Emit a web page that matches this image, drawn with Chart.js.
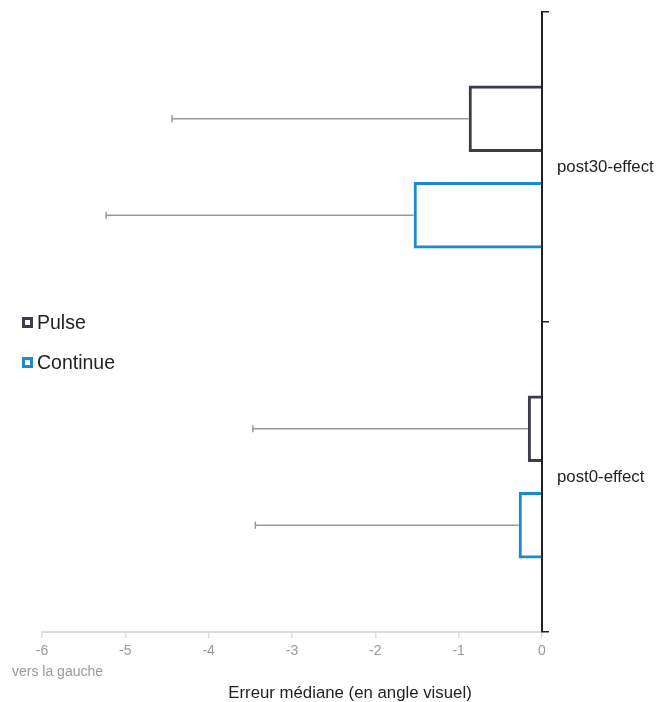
<!DOCTYPE html>
<html>
<head>
<meta charset="utf-8">
<script src="https://cdn.jsdelivr.net/npm/chart.js@4.4.0/dist/chart.umd.min.js"></script>
<style>
  body { margin: 0; background: #fff; font-family: "Liberation Sans", Arial, sans-serif; }
  #wrap { position: relative; width: 656px; height: 702px; }
  .legend-item { position: absolute; left: 22px; display: flex; align-items: center; height: 24px; font-size: 19.5px; color: #222; }
  .legend-item span.box { width: 11px; height: 11px; box-sizing: border-box; border: 3px solid; margin-right: 4px; }
  #side-note { position: absolute; left: 12px; top: 663px; font-size: 14px; color: #999; }
  #x-title { position: absolute; left: 0; width: 700px; top: 683px; text-align: center; font-size: 16.8px; color: #222; }
</style>
</head>
<body>
<div id="wrap">
  <canvas id="chart" width="656" height="702"></canvas>
  <div class="legend-item" style="top:310px"><span class="box" style="border-color:#3d3b4c"></span>Pulse</div>
  <div class="legend-item" style="top:350px"><span class="box" style="border-color:#1b8ad3"></span>Continue</div>
  <div id="side-note">vers la gauche</div>
  <div id="x-title">Erreur médiane (en angle visuel)</div>
</div>
<script>
const categories = ["post30-effect", "post0-effect"];
const pulseValues = [-0.88, -0.17];
const continueValues = [-1.54, -0.28];
// left end of each error bar
const pulseErrLow = [-4.44, -3.47];
const continueErrLow = [-5.23, -3.44];
const xMin = -6, xMax = 0;

// draws one-sided error bars from the bar end to the low value
const errorBars = {
  id: "errorBars",
  afterDatasetsDraw(chart) {
    const ctx = chart.ctx;
    const xs = chart.scales.x;
    chart.data.datasets.forEach((ds, i) => {
      chart.getDatasetMeta(i).data.forEach((bar, j) => {
        const xEnd = xs.getPixelForValue(ds.errLow[j]);
        ctx.save();
        ctx.strokeStyle = "#999";
        ctx.lineWidth = 1.5;
        ctx.beginPath();
        ctx.moveTo(bar.x, bar.y);
        ctx.lineTo(xEnd, bar.y);
        ctx.moveTo(xEnd, bar.y - 3.5);
        ctx.lineTo(xEnd, bar.y + 3.5);
        ctx.stroke();
        ctx.restore();
      });
    });
  }
};

new Chart(document.getElementById("chart"), {
  type: "bar",
  data: {
    labels: categories,
    datasets: [
      {
        label: "Pulse",
        data: pulseValues,
        errLow: pulseErrLow,
        backgroundColor: "rgba(0,0,0,0)",
        borderColor: "#3d3b4c",
        borderWidth: 3
      },
      {
        label: "Continue",
        data: continueValues,
        errLow: continueErrLow,
        backgroundColor: "rgba(0,0,0,0)",
        borderColor: "#1b8ad3",
        borderWidth: 3
      }
    ]
  },
  options: {
    indexAxis: "y",
    responsive: false,
    animation: false,
    devicePixelRatio: 1,
    categoryPercentage: 0.623,
    barPercentage: 0.69,
    layout: { padding: { top: 12, left: 42, right: 0, bottom: 0 } },
    plugins: { legend: { display: false }, tooltip: { enabled: false } },
    scales: {
      x: {
        min: xMin,
        max: xMax,
        ticks: { stepSize: 1, color: "#999", font: { family: "Liberation Sans", size: 14 }, padding: 5 },
        grid: { drawOnChartArea: false, drawTicks: true, tickLength: 6, color: "#ddd", lineWidth: 1.5 },
        border: { color: "#ddd", width: 2 },
        afterFit: s => { s.height = 70; }
      },
      y: {
        position: "right",
        ticks: { color: "#222", font: { family: "Liberation Sans", size: 16.8 }, padding: 8 },
        grid: { drawOnChartArea: false, drawTicks: true, tickLength: 7, color: "#222", lineWidth: 1.5 },
        border: { color: "#222", width: 2 },
        afterFit: s => { s.width = 114; s.paddingTop = 0; s.paddingBottom = 0; }
      }
    }
  },
  plugins: [errorBars]
});
</script>
</body>
</html>
